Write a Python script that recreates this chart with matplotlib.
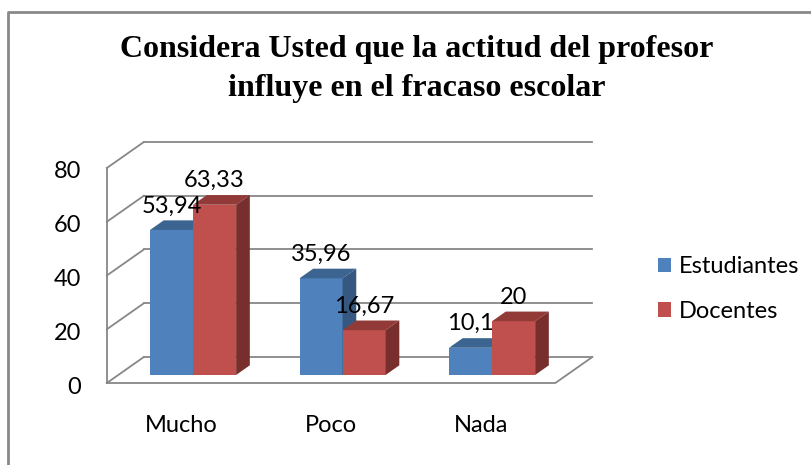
import matplotlib
matplotlib.use("Agg")
import matplotlib.pyplot as plt
from matplotlib.patches import Polygon
from matplotlib.lines import Line2D

# datos
categorias = ["Mucho", "Poco", "Nada"]
series = ["Estudiantes", "Docentes"]
estudiantes = [53.94, 35.96, 10.1]
docentes = [63.33, 16.67, 20]
etiquetas_est = ["53,94", "35,96", "10,1"]
etiquetas_doc = ["63,33", "16,67", "20"]
yticks = [0, 20, 40, 60, 80]

W, H = 812, 465
fig = plt.figure(figsize=(W / 100, H / 100), dpi=100)
ax = fig.add_axes([0, 0, 1, 1])

# chart scale in pixels: one category = 149.5 px, one unit = 2.6875 px
PX_CAT = 149.5
PX_VAL = 2.6875
X0, Y0 = 181.6, 383  # pixel of category 0 / value 0 on the front plane
ax.set_xlim(-X0 / PX_CAT, (W - X0) / PX_CAT)
ax.set_ylim((Y0 - H) / PX_VAL, Y0 / PX_VAL)
ax.axis("off")

# depth of the 3d box
DX = 37 / PX_CAT
DY = 26 / PX_VAL
F0, FD = 0.31, 0.37  # bar front position and bar depth (fraction of box)
ymax = yticks[-1]
xl, xr = -0.5, len(categorias) - 0.5

grid_c = "#878787"
lw = 1.3
# back wall gridlines + side wall diagonals
for v in yticks:
    ax.plot([xl + DX, xr + DX], [v + DY, v + DY], color=grid_c, lw=lw, zorder=1)
    ax.plot([xl, xl + DX], [v, v + DY], color=grid_c, lw=lw, zorder=1)
ax.plot([xl, xl], [0, ymax], color=grid_c, lw=lw, zorder=1)
# floor
ax.plot([xl, xr, xr + DX], [0, 0, DY], color=grid_c, lw=lw, zorder=1)

font_txt = ["Lato", "DejaVu Sans"]
fs = 17

bw = 0.288
colores = [("#4F81BD", "#3C6491", "#355780"), ("#C0504D", "#923A38", "#772E2C")]
valores = [estudiantes, docentes]
etiquetas = [etiquetas_est, etiquetas_doc]
handles = []
for i in range(len(categorias)):
    for s in range(2):
        x = i - bw + s * bw + F0 * DX
        b = F0 * DY
        val = valores[s][i]
        front, top, side = colores[s]
        r = ax.bar(x, val, bw, bottom=b, align="edge", color=front,
                   linewidth=0, zorder=3)
        if i == 0:
            handles.append(r[0])
        t = b + val
        ddx, ddy = FD * DX, FD * DY
        ax.add_patch(Polygon([(x, t), (x + bw, t), (x + bw + ddx, t + ddy), (x + ddx, t + ddy)],
                             closed=True, color=top, lw=0, zorder=3))
        ax.add_patch(Polygon([(x + bw, b), (x + bw, t), (x + bw + ddx, t + ddy), (x + bw + ddx, b + ddy)],
                             closed=True, color=side, lw=0, zorder=3))
        ax.text(x + bw / 2, t + 24 / PX_VAL, etiquetas[s][i], ha="center", va="center",
                fontsize=fs, family=font_txt, zorder=5)

# tick labels
for v in yticks:
    ax.text(xl - 26 / PX_CAT, v - 4 / PX_VAL, str(v), ha="right", va="center",
            fontsize=fs, family=font_txt)
for i, c in enumerate(categorias):
    ax.text(i, -42 / PX_VAL, c, ha="center", va="center", fontsize=fs, family=font_txt)

ax.legend(handles, series, loc="center left", bbox_to_anchor=(658 / W, 1 - 289 / H),
          bbox_transform=fig.transFigure, frameon=False, borderpad=0, borderaxespad=0,
          handlelength=0.55, handleheight=0.55, handletextpad=0.35, labelspacing=1.0,
          prop={"family": font_txt, "size": fs})

# title
fig.text(417 / W, 1 - 57 / H, "Considera Usted que la actitud del profesor", ha="center",
         va="baseline", fontsize=23, fontweight="bold", family="Liberation Serif")
fig.text(417 / W, 1 - 96 / H, "influye en el fracaso escolar", ha="center",
         va="baseline", fontsize=23, fontweight="bold", family="Liberation Serif")

# chart frame (only left and top visible)
fig.add_artist(Line2D([8 / W, 8 / W, 1], [0, 1 - 12 / H, 1 - 12 / H],
                      transform=fig.transFigure, color="#898989", lw=2))

fig.savefig("out.png", dpi=100)
